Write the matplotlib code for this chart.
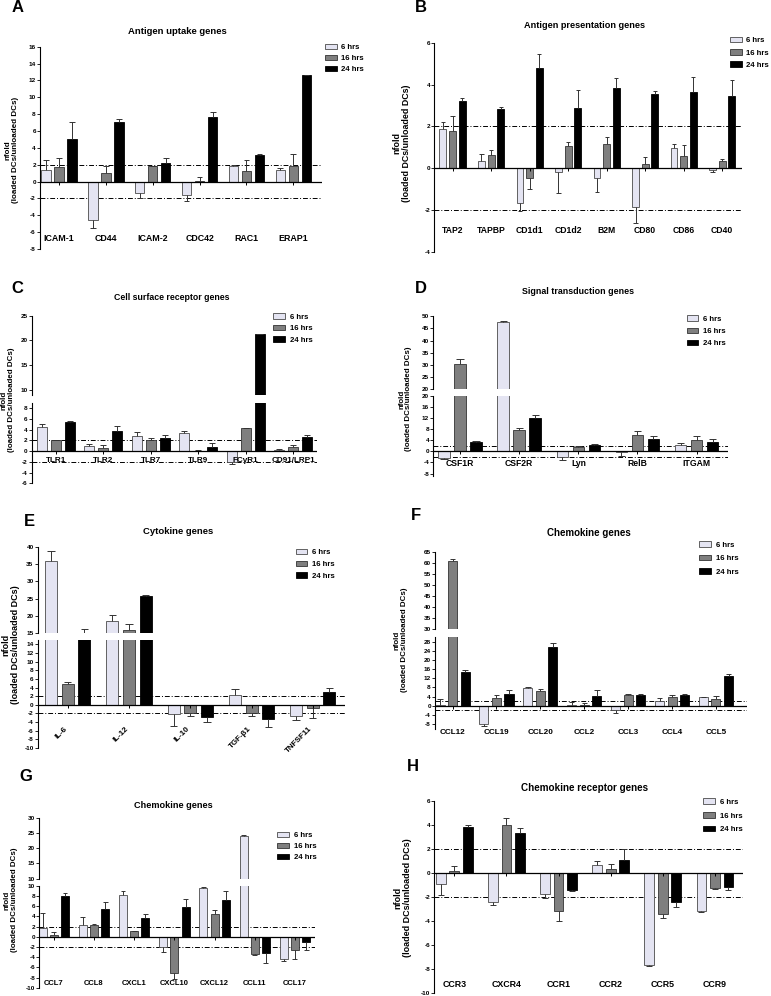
import numpy as np
import matplotlib.pyplot as plt

plt.rcParams['font.family'] = ['Liberation Sans', 'DejaVu Sans']
plt.rcParams['font.weight'] = 'bold'
plt.rcParams['axes.unicode_minus'] = False

W, H = 771, 996
series = ['6 hrs', '16 hrs', '24 hrs']
face = ['#e4e4f2', '#7f7f7f', '#000000']
edge = ['#4a4a4a', '#333333', '#000000']

# ---- data: mean fold change and SEM (6 hrs, 16 hrs, 24 hrs) ----
a_genes = ['ICAM-1', 'CD44', 'ICAM-2', 'CDC42', 'RAC1', 'ERAP1']
a_vals = [[1.4, -4.6, -1.4, -1.6, 1.9, 1.4],
          [1.7, 1.0, 1.8, 0.05, 1.3, 1.9],
          [5.0, 7.1, 2.2, 7.7, 3.1, 12.6]]
a_errs = [[1.2, 0.9, 0.5, 0.7, 0.1, 0.2],
          [1.1, 0.9, 0.1, 0.45, 1.3, 1.4],
          [2.1, 0.3, 0.6, 0.5, 0.2, 0.1]]

b_genes = ['TAP2', 'TAPBP', 'CD1d1', 'CD1d2', 'B2M', 'CD80', 'CD86', 'CD40']
b_vals = [[1.9, 0.33, -1.65, -0.2, -0.45, -1.85, 0.95, -0.1],
          [1.8, 0.62, -0.45, 1.05, 1.15, 0.2, 0.6, 0.33],
          [3.2, 2.85, 4.8, 2.9, 3.85, 3.55, 3.65, 3.45]]
b_errs = [[0.3, 0.37, 0.4, 1.0, 0.7, 0.75, 0.2, 0.1],
          [0.7, 0.23, 0.55, 0.2, 0.35, 0.35, 0.5, 0.12],
          [0.15, 0.1, 0.65, 0.85, 0.45, 0.15, 0.7, 0.75]]

c_genes = ['TLR1', 'TLR2', 'TLR7', 'TLR9', 'FCγR1', 'CD91/LRP1']
c_vals = [[4.5, 1.0, 2.8, 3.4, -2.0, 0.2],
          [2.0, 0.6, 2.0, 0.1, 4.2, 0.8],
          [5.4, 3.8, 2.4, 0.8, 21.3, 2.7]]
c_errs = [[0.5, 0.3, 0.8, 0.3, 0.4, 0.2],
          [0.05, 0.5, 0.4, 0.1, 0.1, 0.4],
          [0.2, 0.9, 0.6, 0.7, 0.1, 0.3]]

d_genes = ['CSF1R', 'CSF2R', 'Lyn', 'RelB', 'ITGAM']
d_vals = [[-2.5, 47.8, -2.2, -0.4, 2.2],
          [30.3, 7.8, 1.7, 6.0, 4.0],
          [3.2, 11.8, 2.4, 4.4, 3.2]]
d_errs = [[0.3, 0.2, 1.0, 1.3, 0.8],
          [2.3, 0.6, 0.3, 1.3, 1.4],
          [0.4, 1.1, 0.2, 1.2, 1.2]]

e_genes = ['IL-6', 'IL-12', 'IL-10', 'TGF-β1', 'TNFSF11']
e_vals = [[35.9, 18.6, -2.2, 2.2, -2.6],
          [4.8, 15.9, -1.8, -1.8, -0.7],
          [15.2, 25.8, -2.8, -3.3, 3.0]]
e_errs = [[2.9, 1.6, 2.8, 1.4, 1.0],
          [0.4, 1.7, 0.8, 0.8, 2.3],
          [0.9, 0.4, 1.2, 1.8, 0.8]]

f_genes = ['CCL12', 'CCL19', 'CCL20', 'CCL2', 'CCL3', 'CCL4', 'CCL5']
f_vals = [[0.5, -7.8, 7.6, 0.2, -2.0, 2.1, 3.6],
          [61.0, 3.5, 6.6, 0.2, 4.5, 3.8, 3.0],
          [14.6, 5.0, 25.5, 4.4, 4.5, 4.8, 12.8]]
f_errs = [[2.5, 1.0, 0.7, 1.3, 1.4, 1.1, 0.4],
          [0.8, 1.3, 0.9, 0.8, 0.4, 0.8, 1.3],
          [1.0, 2.0, 1.8, 2.6, 0.5, 0.3, 1.2]]

g_genes = ['CCL7', 'CCL8', 'CXCL1', 'CXCL10', 'CXCL12', 'CCL11', 'CCL17']
g_vals = [[1.8, 2.2, 8.1, -2.1, 9.6, 24.1, -4.4],
          [0.4, 2.2, 1.1, -7.2, 4.4, -3.4, -2.6],
          [7.9, 5.5, 3.6, 5.9, 7.1, -3.2, -1.1]]
g_errs = [[2.9, 1.6, 0.9, 0.9, 0.2, 0.2, 0.3],
          [0.5, 0.3, 0.1, 1.0, 0.9, 0.1, 1.7],
          [0.7, 1.3, 0.9, 1.5, 1.9, 1.9, 1.5]]

h_genes = ['CCR3', 'CXCR4', 'CCR1', 'CCR2', 'CCR5', 'CCR9']
h_vals = [[-0.9, -2.4, -1.75, 0.7, -7.6, -3.15],
          [0.2, 4.0, -3.1, 0.4, -3.4, -1.25],
          [3.85, 3.4, -1.4, 1.15, -2.4, -1.1]]
h_errs = [[0.9, 0.2, 0.3, 0.3, 0.1, 0.1],
          [0.45, 0.6, 0.85, 0.4, 0.3, 0.05],
          [0.2, 0.35, 0.1, 0.85, 0.4, 0.3]]

fig = plt.figure(figsize=(W / 100, H / 100), dpi=100)


def add_ax(x0, y0, x1, y1):
    return fig.add_axes([x0 / W, 1 - y1 / H, (x1 - x0) / W, (y1 - y0) / H])


def panel(letter, title, genes, vals, errs, lay):
    n = len(genes)
    centers = np.arange(n) * lay['gap']
    axes = []
    for i, (top, bot, ylim, ticks) in enumerate(lay['segs']):
        ax = add_ax(lay['x0'], top, lay['x1'], bot)
        bars = []
        for k in range(3):
            x = centers + (k - 1)
            v = np.array(vals[k])
            end = v + np.sign(v) * np.array(errs[k])
            ax.vlines(x, v, end, color='#333333', lw=0.7, zorder=3)
            ax.hlines(end, x - 0.22, x + 0.22, color='#333333', lw=0.7, zorder=3)
            bars.append(ax.bar(x, v, width=0.72, color=face[k], edgecolor=edge[k],
                               lw=0.6, label=series[k], zorder=2))
        ax.set_xlim(-lay['lm'], centers[-1] + lay['rm'])
        ax.set_ylim(*ylim)
        ax.set_yticks(ticks)
        ax.set_xticks([])
        for s in ['top', 'right', 'bottom']:
            ax.spines[s].set_visible(False)
        ax.spines['left'].set_linewidth(0.8)
        ax.tick_params(axis='y', length=2, width=0.6, labelsize=lay['tfs'], pad=1)
        ax.patch.set_alpha(0)
        axes.append((ax, bars))

    low = axes[-1][0]
    low.axhline(0, color='k', lw=0.9, zorder=4)
    low.plot(centers, np.zeros(n), ls='none', marker=3, ms=2.5, mew=0.7,
             color='k', clip_on=False, zorder=4)
    for yy in (2, -2):
        low.axhline(yy, color='k', lw=0.7, ls=(0, (5, 2, 1, 2)), zorder=1)
    for c, g in zip(centers, genes):
        if lay.get('rot'):
            low.text(c - 0.1, lay['ly'], g, rotation=45, rotation_mode='anchor',
                     ha='right', va='center', fontsize=lay['cfs'], clip_on=False)
        else:
            low.text(c, lay['ly'], g, ha='center', va='center',
                     fontsize=lay['cfs'], clip_on=False)

    top_ax, bars = axes[0]
    lx, ly = lay['leg']
    top_ax.legend(bars, series, loc='upper left', bbox_to_anchor=(lx / W, 1 - ly / H),
                  bbox_transform=fig.transFigure, frameon=False, fontsize=5.6,
                  handlelength=1.5, handleheight=0.7, handletextpad=0.6,
                  labelspacing=lay['lsp'], borderpad=0, borderaxespad=0)

    tx, ty = lay['title']
    fig.text(tx / W, 1 - ty / H, title, ha='center', va='center', fontsize=lay['hfs'])
    px, py = lay['letter']
    fig.text(px / W, 1 - py / H, letter, ha='center', va='center', fontsize=12)
    yx, yy = lay['ylab']
    fig.text(yx / W, 1 - yy / H, 'nfold\n(loaded DCs/unloaded DCs)', rotation=90,
             ha='center', va='center', multialignment='center',
             fontsize=lay['yfs'], linespacing=1.05)


panel('A', 'Antigen uptake genes', a_genes, a_vals, a_errs, dict(
    x0=40, x1=322, segs=[(46.7, 249, (-8, 16), np.arange(-8, 17, 2))],
    gap=3.6, lm=1.46, rm=2.2, ly=-6.7, cfs=6.4, tfs=4.6, hfs=6.8,
    title=(177, 32), letter=(17.5, 8), leg=(325, 44), lsp=0.45,
    ylab=(12, 150), yfs=5.8))

panel('B', 'Antigen presentation genes', b_genes, b_vals, b_errs, dict(
    x0=434.3, x1=742, segs=[(42.7, 252, (-4, 6), np.arange(-4, 7, 2))],
    gap=4.0, lm=1.9, rm=2.06, ly=-2.95, cfs=6.2, tfs=4.6, hfs=6.6,
    title=(585, 25), letter=(421, 8), leg=(730, 37), lsp=0.6,
    ylab=(401.7, 143), yfs=6.4))

panel('C', 'Cell surface receptor genes', c_genes, c_vals, c_errs, dict(
    x0=31.7, x1=316.7,
    segs=[(315.7, 395, (9, 25), np.arange(10, 26, 5)),
          (402.7, 483.3, (-6, 9), np.arange(-6, 9, 2))],
    gap=3.43, lm=1.74, rm=1.7, ly=-1.75, cfs=5.9, tfs=4.6, hfs=6.3,
    title=(172, 297.7), letter=(17.5, 288), leg=(273.3, 313.5), lsp=0.5,
    ylab=(8, 400), yfs=5.7))

panel('D', 'Signal transduction genes', d_genes, d_vals, d_errs, dict(
    x0=433.3, x1=728.3,
    segs=[(316.3, 389.3, (20, 50), np.arange(20, 51, 5)),
          (395.7, 476.3, (-9, 20), np.arange(-8, 21, 4))],
    gap=3.7, lm=1.67, rm=1.98, ly=-4.3, cfs=6.2, tfs=4.6, hfs=6.4,
    title=(578, 292), letter=(421, 288), leg=(686.7, 315.5), lsp=0.6,
    ylab=(405.3, 399), yfs=5.7))

panel('E', 'Cytokine genes', e_genes, e_vals, e_errs, dict(
    x0=37.7, x1=345,
    segs=[(546.7, 633.3, (15, 40), np.arange(15, 41, 5)),
          (640, 748, (-10, 15), np.arange(-10, 15, 2))],
    gap=3.67, lm=1.8, rm=1.93, ly=-5.3, rot=True, cfs=5.8, tfs=4.6, hfs=6.8,
    title=(177.7, 532), letter=(29, 521), leg=(295.7, 549), lsp=0.55,
    ylab=(10.7, 644.5), yfs=6.5))

panel('F', 'Chemokine genes', f_genes, f_vals, f_errs, dict(
    x0=435, x1=746.7,
    segs=[(552.3, 629, (30, 65), np.arange(30, 66, 5)),
          (637, 728.6, (-10, 30), np.arange(-8, 29, 4))],
    gap=3.5, lm=1.4, rm=2.45, ly=-11.6, cfs=5.9, tfs=4.6, hfs=7.0,
    title=(589, 533), letter=(415.7, 516), leg=(699.3, 541.5), lsp=0.75,
    ylab=(401, 640), yfs=5.7))

panel('G', 'Chemokine genes', g_genes, g_vals, g_errs, dict(
    x0=39.3, x1=315,
    segs=[(817.7, 878.7, (10, 30), np.arange(10, 31, 5)),
          (885.7, 987.7, (-10, 10), np.arange(-10, 11, 2))],
    gap=3.6, lm=1.3, rm=1.8, ly=-9.1, cfs=5.5, tfs=4.6, hfs=6.6,
    title=(173.3, 805), letter=(25.5, 776), leg=(277.3, 832), lsp=0.45,
    ylab=(11, 900), yfs=5.7))

panel('H', 'Chemokine receptor genes', h_genes, h_vals, h_errs, dict(
    x0=434.3, x1=743.3, segs=[(801.3, 993.3, (-10, 6), np.arange(-10, 7, 2))],
    gap=3.86, lm=1.48, rm=2.1, ly=-9.25, cfs=6.4, tfs=4.6, hfs=7.1,
    title=(585, 787.7), letter=(413, 766), leg=(703.3, 798.5), lsp=0.8,
    ylab=(403, 898), yfs=6.5))

fig.savefig('out.png', dpi=100)
